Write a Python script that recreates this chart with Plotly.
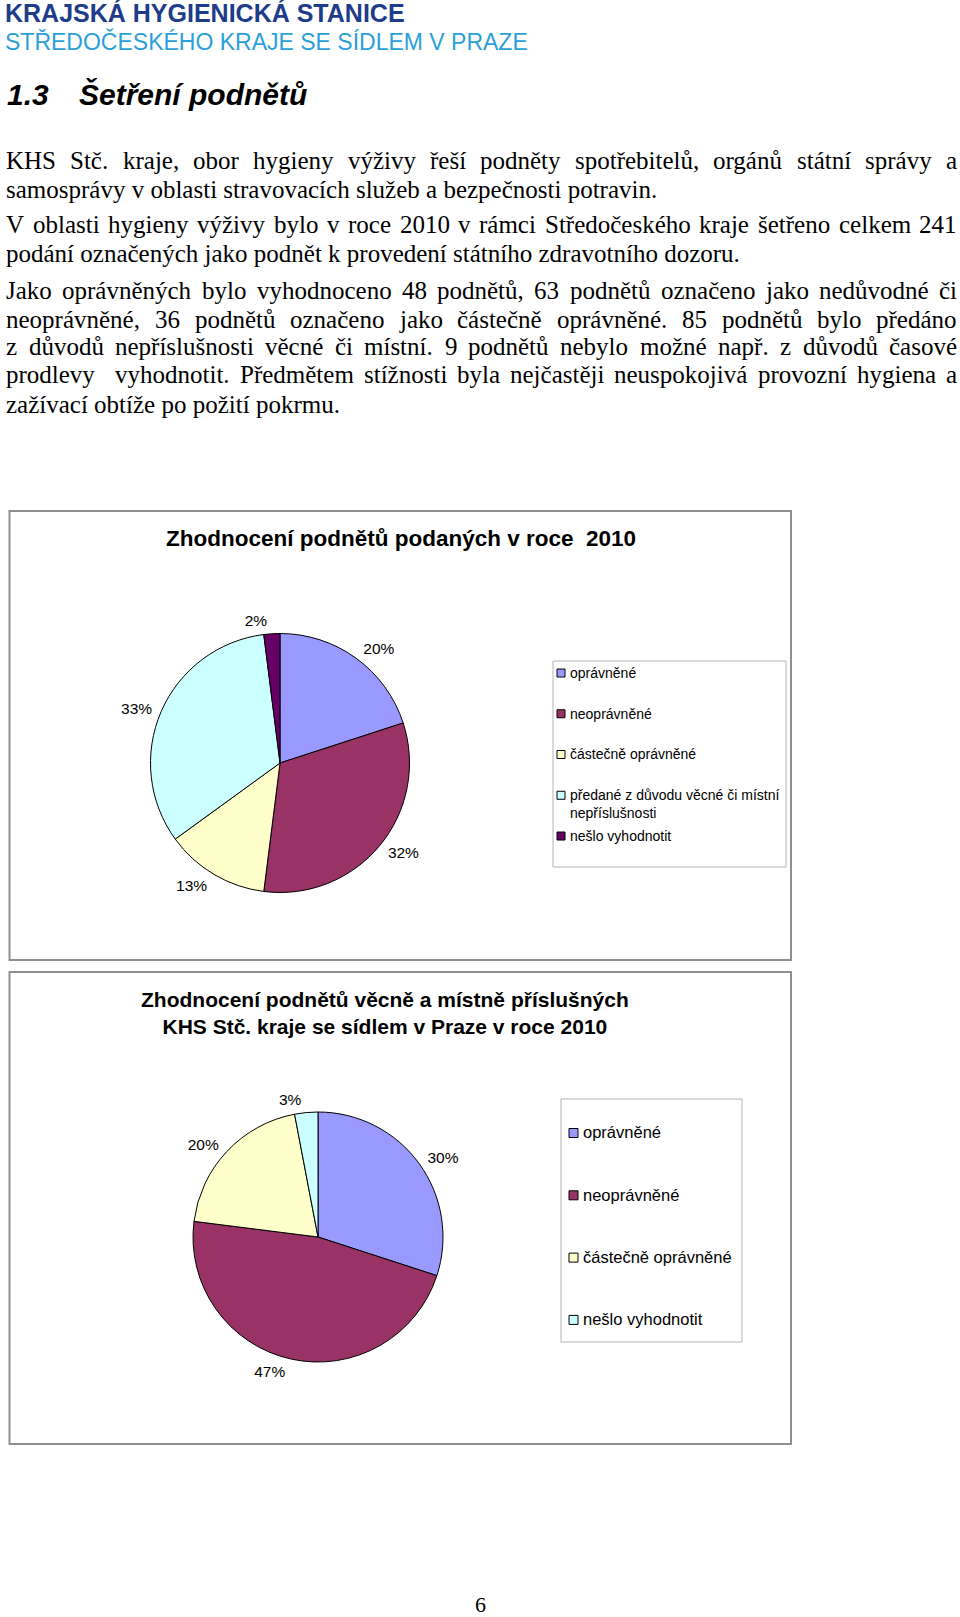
import unicodedata
import plotly.graph_objects as go

# ---------------- data ----------------
categories1 = ["oprávněné", "neoprávněné", "částečně oprávněné",
               "předané z důvodu věcné či místní<br>nepříslušnosti", "nešlo vyhodnotit"]
values1 = [20, 32, 13, 33, 2]
colors1 = ["#9999FF", "#993366", "#FFFFCC", "#CCFFFF", "#660066"]

categories2 = ["oprávněné", "neoprávněné", "částečně oprávněné", "nešlo vyhodnotit"]
values2 = [30, 47, 20, 3]
colors2 = ["#9999FF", "#993366", "#FFFFCC", "#CCFFFF"]

title1 = "Zhodnocení podnětů podaných v roce \u00a02010"
title2 = "Zhodnocení podnětů věcně a místně příslušných<br>KHS Stč. kraje se sídlem v Praze v roce 2010"

header1 = "KRAJSKÁ HYGIENICKÁ STANICE"
header2 = "STŘEDOČESKÉHO KRAJE SE SÍDLEM V PRAZE"
section_no = "1.3"
section_title = "Šetření podnětů"

paragraph = [
    ("KHS Stč. kraje, obor hygieny výživy řeší podněty spotřebitelů, orgánů státní správy a", True),
    ("samosprávy v oblasti stravovacích služeb a bezpečnosti potravin.", False),
    ("V oblasti hygieny výživy bylo v roce 2010 v rámci Středočeského kraje šetřeno celkem 241", True),
    ("podání označených jako podnět k provedení státního zdravotního dozoru.", False),
    ("Jako oprávněných bylo vyhodnoceno 48 podnětů, 63 podnětů označeno jako nedůvodné či", True),
    ("neoprávněné, 36 podnětů označeno jako částečně oprávněné. 85 podnětů bylo předáno", True),
    ("z důvodů nepříslušnosti věcné či místní. 9 podnětů nebylo možné např. z důvodů časové", True),
    ("prodlevy  vyhodnotit. Předmětem stížnosti byla nejčastěji neuspokojivá provozní hygiena a", True),
    ("zažívací obtíže po požití pokrmu.", False),
]
page_number = "6"

# ---------------- layout helpers ----------------
W, H = 960, 1617


def X(p):
    return p / W


def Y(p):
    return 1 - p / H


# Times (Liberation Serif) advance widths, 1/1000 em
TW = dict(zip("abcdefghijklmnopqrstuvwxyz",
              [444, 500, 444, 500, 444, 333, 500, 500, 278, 278, 500, 278, 778,
               500, 500, 500, 500, 333, 389, 278, 500, 500, 722, 500, 500, 444]))
TW.update(dict(zip("ABCDEFGHIJKLMNOPQRSTUVWXYZ",
                   [722, 667, 667, 722, 611, 556, 722, 722, 333, 389, 722, 611, 889,
                    722, 722, 556, 722, 667, 556, 611, 722, 722, 944, 722, 722, 611])))
TW.update({c: 500 for c in "0123456789"})
TW.update({" ": 250, ".": 250, ",": 250, "-": 333})


def tw(s):
    tot = 0
    for ch in s:
        base = unicodedata.normalize("NFD", ch)[0]
        tot += TW.get(base, 500)
    return tot / 1000.0


fig = go.Figure()

pie_font = dict(family="Liberation Sans, Arial, sans-serif", size=15.5, color="black")


def add_pie(cats, vals, cols, cx, cy, r, label_gap):
    # visible pie
    fig.add_trace(go.Pie(
        labels=cats, values=vals, sort=False, direction="clockwise", rotation=0,
        marker=dict(colors=cols, line=dict(color="black", width=1)),
        textinfo="none",
        domain=dict(x=[X(cx - r), X(cx + r)], y=[Y(cy + r), Y(cy - r)]),
        showlegend=False, hoverinfo="label+percent"))
    # transparent, slightly larger pie carrying the percentage labels
    rl = r + label_gap
    fig.add_trace(go.Pie(
        labels=cats, values=vals, sort=False, direction="clockwise", rotation=0,
        marker=dict(colors=["rgba(0,0,0,0)"] * len(vals), line=dict(width=0)),
        textposition="outside", texttemplate="%{percent:.0%}", textfont=pie_font,
        domain=dict(x=[X(cx - rl), X(cx + rl)], y=[Y(cy + rl), Y(cy - rl)]),
        showlegend=False, hoverinfo="skip"))


add_pie(categories1, values1, colors1, 280, 763, 129.5, 5)
add_pie(categories2, values2, colors2, 318, 1237, 125, 5)

shapes = []
ann = []

# chart frames
for (x0, y0, x1, y1) in [(9.5, 511, 791, 960), (9.5, 972, 791, 1444)]:
    shapes.append(dict(type="rect", xref="paper", yref="paper",
                       x0=X(x0), x1=X(x1), y0=Y(y1), y1=Y(y0),
                       line=dict(color="#8f8f8f", width=2), fillcolor="rgba(0,0,0,0)"))

# legend boxes
for (x0, y0, x1, y1) in [(553, 661, 786, 867), (561, 1099, 742, 1342)]:
    shapes.append(dict(type="rect", xref="paper", yref="paper",
                       x0=X(x0), x1=X(x1), y0=Y(y1), y1=Y(y0),
                       line=dict(color="#b4b4b4", width=1), fillcolor="white"))


def legend(cats, cols, mx, tx, y_first, step, fs, msz):
    for i, (lab, col) in enumerate(zip(cats, cols)):
        yc = y_first + i * step
        shapes.append(dict(type="rect", xref="paper", yref="paper",
                           x0=X(mx), x1=X(mx + msz), y0=Y(yc + msz / 2), y1=Y(yc - msz / 2),
                           line=dict(color="black", width=1), fillcolor=col))
        ann.append(dict(text=lab, x=X(tx), y=Y(yc - 0.65 * fs), xref="paper", yref="paper",
                        xanchor="left", yanchor="top", showarrow=False, align="left",
                        borderpad=0,
                        font=dict(family="Liberation Sans, Arial, sans-serif", size=fs, color="black")))


legend(categories1, colors1, 557, 569, 673, 40.75, 14, 8)
legend(categories2, colors2, 569, 582, 1133, 62.3, 16.5, 9)

# chart titles
ann.append(dict(text=title1, x=X(401), y=Y(539), xref="paper", yref="paper",
                xanchor="center", yanchor="middle", showarrow=False,
                font=dict(family="Liberation Sans, Arial, sans-serif", size=22.5,
                          color="black", weight="bold")))
ann.append(dict(text=title2, x=X(385), y=Y(1012.5), xref="paper", yref="paper",
                xanchor="center", yanchor="middle", showarrow=False,
                font=dict(family="Liberation Sans, Arial, sans-serif", size=21,
                          color="black", weight="bold")))

# page header
ann.append(dict(text=header1, x=X(4), y=Y(13.5), xref="paper", yref="paper",
                xanchor="left", yanchor="middle", showarrow=False, borderpad=0,
                font=dict(family="Liberation Sans, Arial, sans-serif", size=25,
                          color="#1d3c8a", weight="bold")))
ann.append(dict(text=header2, x=X(4), y=Y(41), xref="paper", yref="paper",
                xanchor="left", yanchor="middle", showarrow=False, borderpad=0,
                font=dict(family="Liberation Sans, Arial, sans-serif", size=23, color="#2b9fd9")))
hfont = dict(family="Liberation Sans, Arial, sans-serif", size=30, color="black",
             weight="bold", style="italic")
ann.append(dict(text=section_no, x=X(6), y=Y(94), xref="paper", yref="paper",
                xanchor="left", yanchor="middle", showarrow=False, borderpad=0, font=hfont))
ann.append(dict(text=section_title, x=X(78), y=Y(94), xref="paper", yref="paper",
                xanchor="left", yanchor="middle", showarrow=False, borderpad=0, font=hfont))

# paragraph text (justified)
fs = 25
left, right = 5, 956
line_y = [161, 189, 225, 254, 290, 319, 347, 375, 404]
pfont = dict(family="Liberation Serif, Times New Roman, serif", size=fs, color="black")
for (line, just), yy in zip(paragraph, line_y):
    if not just:
        ann.append(dict(text=line, x=X(left), y=Y(yy), xref="paper", yref="paper",
                        xanchor="left", yanchor="middle", showarrow=False, borderpad=0,
                        font=pfont))
        continue
    words = line.split(" ")
    widths = [tw(w) * fs for w in words]
    gap = (right - left - sum(widths)) / (len(words) - 1)
    x = left
    for w, wd in zip(words, widths):
        if w:
            ann.append(dict(text=w, x=X(x), y=Y(yy), xref="paper", yref="paper",
                            xanchor="left", yanchor="middle", showarrow=False, borderpad=0,
                            font=pfont))
        x += wd + gap

ann.append(dict(text=page_number, x=X(480), y=Y(1604), xref="paper", yref="paper",
                xanchor="center", yanchor="middle", showarrow=False,
                font=dict(family="Liberation Serif, Times New Roman, serif", size=22, color="black")))

fig.update_layout(width=W, height=H, margin=dict(l=0, r=0, t=0, b=0),
                  paper_bgcolor="white", plot_bgcolor="white", showlegend=False,
                  shapes=shapes, annotations=ann)

fig.write_html("out.html")
